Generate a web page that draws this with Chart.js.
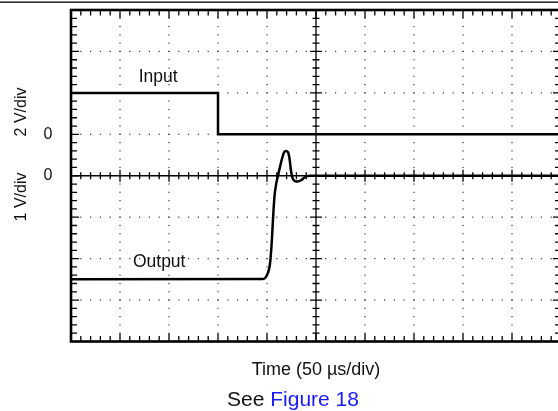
<!DOCTYPE html>
<html>
<head>
<meta charset="utf-8">
<script src="https://cdn.jsdelivr.net/npm/chart.js@4/dist/chart.umd.min.js"></script>
<style>
  body { margin: 0; background: #fff; }
  canvas { display: block; }
</style>
</head>
<body>
<canvas id="scope" width="558" height="411"></canvas>
<script>
// scope settings
const usPerDiv = 50;
const inputVPerDiv = 2;
const outputVPerDiv = 1;

// input step (time in us, volts)
const inputTime = [0, 150, 150, 500];
const inputVolts = [2, 2, 0, 0];

// output response (time in us, volts)
const outputTime = [0, 195.9, 199.0, 201.0, 202.6, 203.6, 204.6, 205.6, 206.6, 207.7, 209.2,
  211.2, 213.3, 215.3, 217.3, 219.4, 221.4, 223.0, 224.5, 226.0, 228.6, 231.6, 234.7,
  237.8, 240.8, 243.9, 500];
const outputVolts = [-2.5, -2.49, -2.44, -2.34, -2.2, -2.0, -1.69, -1.28, -0.85, -0.48, -0.22,
  0, 0.22, 0.41, 0.56, 0.6, 0.57, 0.41, 0.12, -0.05, -0.13, -0.14, -0.11,
  -0.05, -0.01, 0, 0];

// labels
const traceNames = ["Input", "Output"];
const scaleLabels = ["2 V/div", "1 V/div"];
const zeroLabel = "0";
const xTitle = "Time (50 \u00B5s/div)";
const captionParts = ["See ", "Figure 18"];

const FONT = "'Liberation Sans', Arial, Helvetica, sans-serif";

const toPoints = (xs, ys) => xs.map((x, i) => ({ x: x, y: ys[i] }));

// grid, frame, ticks and text drawn from the scales
const scopePlugin = {
  id: "scope",
  beforeDatasetsDraw(chart) {
    const c = chart.ctx;
    const xs = chart.scales.x;
    const yo = chart.scales.yOut;
    const px = (d) => xs.getPixelForValue(d * usPerDiv);
    const py = (d) => yo.getPixelForValue(d * outputVPerDiv);
    const left = px(0), right = px(10), top = py(4), bottom = py(-4);
    const cx = px(5), cy = py(0);
    c.save();

    // page rule at the very top
    c.fillStyle = "#000";
    c.fillRect(0, 1.5, chart.width, 1.3);

    // dotted grid
    c.fillStyle = "#333";
    for (let i = 1; i < 10; i++) {
      if (i === 5) continue;
      for (let k = 1; k < 40; k++) {
        c.fillRect(px(i) - 0.6, py(-4 + k * 0.2) - 0.6, 1.2, 1.2);
      }
    }
    for (let j = -3; j <= 3; j++) {
      if (j === 0) continue;
      for (let k = 1; k < 50; k++) {
        c.fillRect(px(k * 0.2) - 0.6, py(j) - 0.6, 1.2, 1.2);
      }
    }

    // centre axes with ticks
    c.strokeStyle = "#000";
    c.lineWidth = 1.3;
    c.beginPath();
    c.moveTo(left, cy); c.lineTo(right, cy);
    c.moveTo(cx, top); c.lineTo(cx, bottom);
    for (let k = 1; k < 50; k++) {
      const x = px(k * 0.2);
      const len = k % 5 === 0 ? 6 : 3.5;
      c.moveTo(x, cy - len); c.lineTo(x, cy + len);
    }
    for (let k = 1; k < 40; k++) {
      const y = py(-4 + k * 0.2);
      const len = k % 5 === 0 ? 6 : 3.5;
      c.moveTo(cx - len, y); c.lineTo(cx + len, y);
    }
    c.stroke();

    // frame ticks pointing inward
    c.lineWidth = 1.3;
    c.beginPath();
    for (let k = 1; k < 50; k++) {
      const x = px(k * 0.2);
      const len = k % 5 === 0 ? 8 : 5.5;
      c.moveTo(x, top); c.lineTo(x, top + len);
      c.moveTo(x, bottom); c.lineTo(x, bottom - len);
    }
    for (let k = 1; k < 40; k++) {
      const y = py(-4 + k * 0.2);
      const len = k % 5 === 0 ? 8 : 6;
      c.moveTo(left, y); c.lineTo(left + len, y);
      c.moveTo(right, y); c.lineTo(right - len, y);
    }
    c.stroke();

    // frame
    c.lineWidth = 2.6;
    c.strokeRect(left, top, right - left, bottom - top);
    c.restore();
  },
  afterDraw(chart) {
    const c = chart.ctx;
    const xs = chart.scales.x;
    const yi = chart.scales.yIn;
    const yo = chart.scales.yOut;
    c.save();
    c.fillStyle = "#111";
    c.textBaseline = "middle";
    c.textAlign = "center";

    c.font = "17.5px " + FONT;
    c.fillText(traceNames[0], xs.getPixelForValue(89), yi.getPixelForValue(2) - 16);
    c.fillText(traceNames[1], xs.getPixelForValue(90), yo.getPixelForValue(-2.5) - 17);

    c.font = "16px " + FONT;
    c.fillText(zeroLabel, 48, yi.getPixelForValue(0));
    c.fillText(zeroLabel, 48, yo.getPixelForValue(0));

    c.save();
    c.translate(22, 112);
    c.rotate(-Math.PI / 2);
    c.fillText(scaleLabels[0], 0, 0);
    c.restore();
    c.save();
    c.translate(22, 197);
    c.rotate(-Math.PI / 2);
    c.fillText(scaleLabels[1], 0, 0);
    c.restore();

    c.font = "18px " + FONT;
    c.fillText(xTitle, 316, 370);

    c.font = "21px " + FONT;
    c.textAlign = "left";
    const w0 = c.measureText(captionParts[0]).width;
    const w1 = c.measureText(captionParts[1]).width;
    const sx = 293 - (w0 + w1) / 2;
    c.fillStyle = "#111";
    c.fillText(captionParts[0], sx, 400);
    c.fillStyle = "#1a1aff";
    c.fillText(captionParts[1], sx + w0, 400);
    c.restore();
  }
};

new Chart(document.getElementById("scope"), {
  type: "line",
  data: {
    datasets: [
      {
        label: traceNames[0],
        data: toPoints(inputTime, inputVolts),
        yAxisID: "yIn",
        borderColor: "#000",
        borderWidth: 2.5,
        pointRadius: 0,
        tension: 0,
      },
      {
        label: traceNames[1],
        data: toPoints(outputTime, outputVolts),
        yAxisID: "yOut",
        borderColor: "#000",
        borderWidth: 2.5,
        pointRadius: 0,
        cubicInterpolationMode: "monotone",
      },
    ],
  },
  options: {
    responsive: false,
    animation: false,
    devicePixelRatio: 1,
    layout: { padding: { left: 71, top: 10, right: 0, bottom: 69.5 } },
    plugins: { legend: { display: false }, tooltip: { enabled: false } },
    scales: {
      x: { type: "linear", min: 0, max: 487 / 49 * usPerDiv, display: false },
      yIn: { min: -5 * inputVPerDiv, max: 3 * inputVPerDiv, display: false },
      yOut: { min: -4 * outputVPerDiv, max: 4 * outputVPerDiv, display: false },
    },
  },
  plugins: [scopePlugin],
});
</script>
</body>
</html>
